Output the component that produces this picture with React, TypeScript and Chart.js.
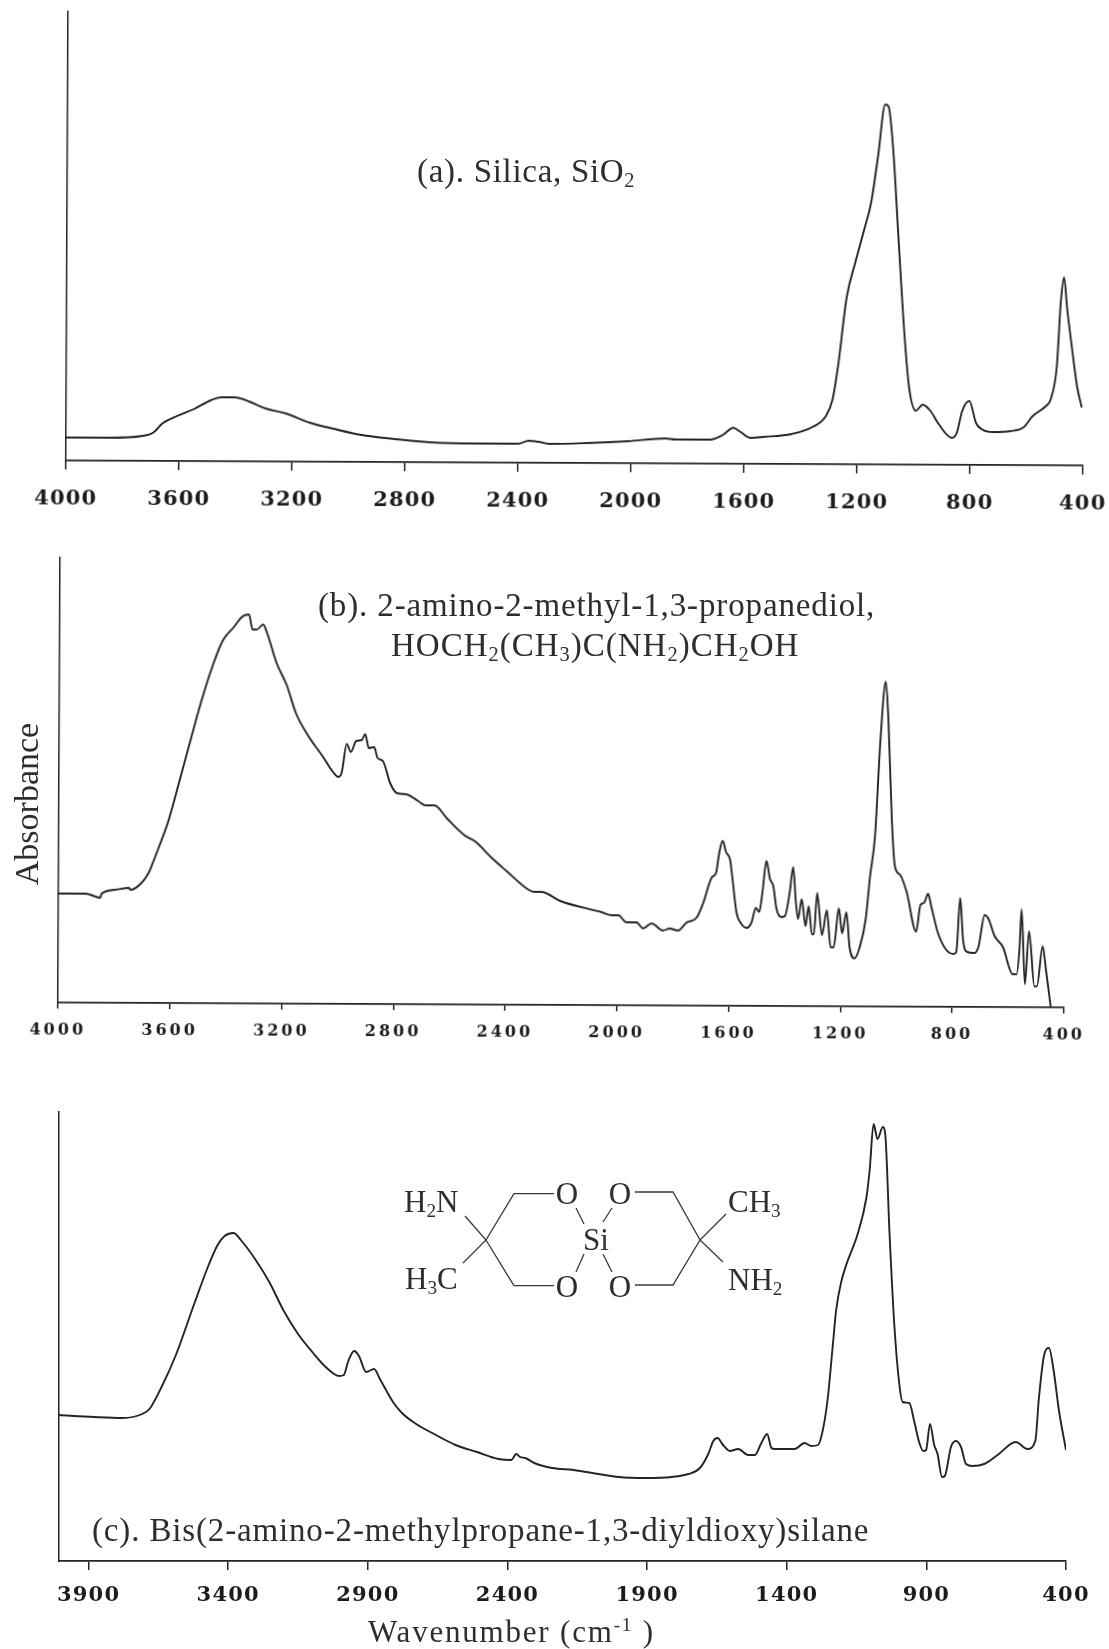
import React, { useEffect, useRef } from "react";
import { Chart, registerables } from "chart.js";

Chart.register(...registerables);

const wavenumberA = [4000,3850,3729,3693,3657,3608,3548,3487,3451,3403,3354,3294,3221,3137,3052,2955,2834,2714,2544,2399,2363,2327,2290,2157,2012,1879,1843,1722,1674,1638,1613,1577,1529,1432,1359,1311,1287,1268,1239,1210,1178,1154,1130,1106,1094,1077,1057,1033,1016,992,968,941,912,864,847,828,803,779,760,719,658,610,579,533,515,494,481,470,458,440,422,405];
const absorbanceA = [23,23,25,28,38,45,52,61,64,64,60,53,48,39,33,27,23,20,19,19,22,21,19,20,22,25,24,24,29,36,32,26,27,30,37,48,65,99,167,201,235,262,309,360,358,316,228,127,76,54,60,54,41,27,32,54,64,42,36,33,34,38,49,59,66,99,163,188,156,116,79,58];

const wavenumberB = [4000,3902,3850,3846,3799,3748,3742,3703,3678,3659,3640,3608,3569,3531,3493,3454,3416,3378,3346,3323,3310,3295,3272,3256,3224,3186,3154,3109,3058,3020,3000,2988,2971,2956,2937,2917,2905,2892,2873,2860,2841,2815,2790,2758,2713,2688,2656,2611,2547,2509,2451,2394,2323,2298,2272,2204,2056,2020,1996,1967,1931,1907,1877,1836,1812,1782,1752,1716,1692,1663,1647,1636,1624,1612,1597,1589,1573,1558,1537,1520,1504,1492,1481,1467,1454,1442,1430,1412,1400,1383,1371,1361,1353,1340,1326,1315,1303,1296,1285,1267,1250,1236,1225,1207,1195,1180,1168,1150,1132,1111,1096,1079,1061,1043,1033,1019,1007,989,965,930,915,902,888,876,852,822,795,786,773,762,747,721,707,685,671,649,619,584,570,560,553,540,526,506,497,477,465,447];
const absorbanceB = [109,109,105,109,113,115,113,120,130,143,157,182,222,262,301,336,363,376,387,389,374,374,379,369,341,318,291,268,248,232,227,232,260,252,263,264,270,256,257,246,243,221,211,210,203,199,199,186,169,163,147,133,116,113,113,104,93,90,90,83,83,77,82,75,77,75,83,88,103,128,133,153,165,154,146,129,93,83,78,83,98,94,113,145,127,120,97,89,90,114,139,104,87,107,80,100,72,72,113,71,96,59,59,98,73,94,59,48,59,87,130,170,267,325,287,187,140,132,115,75,102,104,113,100,74,57,53,55,109,67,55,54,60,92,88,71,60,33,33,58,98,23,76,21,21,61,38,0];

const wavenumberC = [4006,3881,3778,3708,3682,3637,3586,3522,3470,3438,3413,3381,3355,3304,3253,3201,3150,3099,3047,3003,2986,2970,2949,2932,2906,2878,2855,2810,2778,2727,2663,2586,2509,2432,2387,2368,2355,2336,2304,2240,2163,2073,2002,1907,1812,1752,1711,1681,1663,1648,1628,1604,1574,1538,1514,1491,1470,1455,1443,1372,1336,1312,1288,1270,1253,1235,1223,1205,1187,1145,1115,1103,1089,1075,1056,1047,1032,1015,997,985,961,943,925,911,901,887,872,860,844,834,812,794,776,758,735,693,645,580,538,510,497,479,461,445,425,400];
const absorbanceC = [146,144,143,147,152,175,207,257,296,316,325,328,321,302,279,250,227,209,193,185,186,200,210,205,189,192,181,159,148,137,127,116,109,102,101,107,104,103,98,93,91,87,84,83,84,87,93,107,120,123,116,110,112,106,106,118,127,113,112,112,118,115,116,132,163,216,251,279,296,328,363,391,437,422,434,426,328,237,177,159,158,139,118,110,111,137,116,107,84,85,114,120,114,97,95,97,106,119,112,120,163,205,213,192,150,111];

const ticksA = [4000,3600,3200,2800,2400,2000,1600,1200,800,400];
const ticksB = [4000,3600,3200,2800,2400,2000,1600,1200,800,400];
const ticksC = [3900,3400,2900,2400,1900,1400,900,400];

const INK = "#242424";
const SERIF = '"Liberation Serif", serif';

type PanelProps = {
  xs: number[]; ys: number[]; tickVals: number[]; xMin: number;
  left: number; right: number; top: number; bottom: number; tilt: number;
  tickLen: number; tickFont: number; spacing: number; tickPad: number; label: string;
};

function Panel(p: PanelProps) {
  const ref = useRef<HTMLCanvasElement | null>(null);
  const band = 60;
  useEffect(() => {
    const canvas = ref.current!;
    const spacingPlugin = {
      id: "tickSpacing",
      beforeDraw(chart: any) { chart.ctx.letterSpacing = p.spacing + "px"; },
    };
    const chart = new Chart(canvas, {
      type: "line",
      data: {
        datasets: [{
          label: p.label,
          data: p.xs.map((x, i) => ({ x, y: p.ys[i] })),
          borderColor: INK,
          borderWidth: 1.9,
          pointRadius: 0,
          fill: false,
          cubicInterpolationMode: "monotone",
        }],
      },
      options: {
        animation: false,
        responsive: false,
        maintainAspectRatio: false,
        parsing: false as any,
        layout: { padding: { left: p.left, right: 1109 - p.right, top: 0, bottom: 0 } },
        plugins: { legend: { display: false }, tooltip: { enabled: false }, title: { display: false } },
        scales: {
          x: {
            type: "linear",
            reverse: true,
            min: 400,
            max: p.xMin,
            afterBuildTicks: (s: any) => { s.ticks = p.tickVals.map((value) => ({ value })); },
            afterFit: (s: any) => { s.height = band; s.paddingLeft = 0; s.paddingRight = 0; },
            border: { display: true, color: INK, width: 1.7 },
            grid: { display: true, drawOnChartArea: false, drawTicks: true, tickLength: p.tickLen, color: INK, lineWidth: 1.5 },
            ticks: {
              autoSkip: false, maxRotation: 0, minRotation: 0, padding: p.tickPad, color: "#1c1c1c",
              font: { family: '"DejaVu Serif", serif', weight: "bold", size: p.tickFont },
              callback: (v: any) => String(v),
            },
          },
          y: {
            type: "linear",
            min: 0,
            max: p.bottom - p.top,
            afterFit: (s: any) => { s.width = 0; },
            border: { display: true, color: INK, width: 1.5 },
            grid: { display: false },
            ticks: { display: false },
          },
        },
      } as any,
      plugins: [spacingPlugin],
    });
    return () => chart.destroy();
  }, []);
  const h = p.bottom - p.top + band;
  return (
    <canvas
      ref={ref}
      width={1109}
      height={h}
      style={{
        position: "absolute", left: 0, top: p.top, width: 1109, height: h,
        transform: p.tilt ? `rotate(${p.tilt}deg)` : undefined,
        transformOrigin: `${(p.left + p.right) / 2}px ${(p.bottom - p.top) / 2}px`,
      }}
    />
  );
}

const textBase: React.CSSProperties = {
  position: "absolute", fontFamily: SERIF, color: "#2e2e2e", whiteSpace: "nowrap", lineHeight: 1,
};
const subStyle: React.CSSProperties = { fontSize: "0.62em", verticalAlign: "-0.25em", lineHeight: 0 };

function T({ x, y, size, ls, children, center }: { x: number; y: number; size: number; ls?: number; center?: boolean; children: React.ReactNode }) {
  return (
    <div style={{ ...textBase, left: x, top: y - size / 2, fontSize: size, letterSpacing: ls ?? 0, transform: center ? "translateX(-50%)" : undefined }}>
      {children}
    </div>
  );
}
const S = ({ children }: { children: React.ReactNode }) => <sub style={subStyle}>{children}</sub>;

export default function App() {
  useEffect(() => { document.body.style.margin = "0"; }, []);
  return (
    <div style={{ position: "absolute", left: 0, top: 0, width: 1109, height: 1649, overflow: "hidden", background: "#fff" }}>
      <Panel xs={wavenumberA} ys={absorbanceA} tickVals={ticksA} xMin={4000} left={67} right={1084} top={13} bottom={463} tilt={0.28} tickLen={9} tickFont={21} spacing={1.2} tickPad={17} label="(a) Silica" />
      <Panel xs={wavenumberB} ys={absorbanceB} tickVals={ticksB} xMin={4000} left={59} right={1065} top={559} bottom={1005} tilt={0.28} tickLen={6} tickFont={16} spacing={3} tickPad={12} label="(b) 2-amino-2-methyl-1,3-propanediol" />
      <Panel xs={wavenumberC} ys={absorbanceC} tickVals={ticksC} xMin={4006} left={59} right={1066} top={1111} bottom={1561} tilt={0} tickLen={9} tickFont={21} spacing={1.2} tickPad={13} label="(c) Bis(2-amino-2-methylpropane-1,3-diyldioxy)silane" />

      <T x={417} y={171} size={33} ls={0.7}>(a). Silica, SiO<S>2</S></T>
      <T x={318} y={605} size={33} ls={0.87}>(b). 2-amino-2-methyl-1,3-propanediol,</T>
      <T x={391} y={645} size={33} ls={1}>HOCH<S>2</S>(CH<S>3</S>)C(NH<S>2</S>)CH<S>2</S>OH</T>
      <T x={92} y={1530} size={33} ls={0.85}>(c). Bis(2-amino-2-methylpropane-1,3-diyldioxy)silane</T>
      <T x={368} y={1631} size={31} ls={1.8}>Wavenumber (cm<sup style={{ fontSize: "0.62em", verticalAlign: "0.55em", lineHeight: 0 }}>-1</sup> )</T>
      <div style={{ ...textBase, left: 27, top: 804, fontSize: 34, transform: "translate(-50%,-50%) rotate(-90deg)" }}>Absorbance</div>

      <svg width={1109} height={1649} style={{ position: "absolute", left: 0, top: 0 }}>
        <g stroke="#3a3a3a" strokeWidth={1.3} fill="none">
          <polyline points="465,1216 486,1240 463,1263" />
          <polyline points="554,1193.6 514,1193.6 486,1240 514,1285.7 554,1285.7" />
          <line x1={576} y1={1208} x2={584} y2={1224} />
          <line x1={584} y1={1254} x2={576} y2={1272} />
          <line x1={612} y1={1208} x2={603} y2={1222} />
          <line x1={603} y1={1254} x2={612} y2={1272} />
          <polyline points="635,1192 673,1192 700,1240 673,1285 635,1285" />
          <polyline points="726,1214 700,1240 723,1262" />
        </g>
      </svg>
      <T x={404} y={1201} size={31}>H<S>2</S>N</T>
      <T x={405} y={1278} size={31}>H<S>3</S>C</T>
      <T x={567} y={1193} size={31} center>O</T>
      <T x={567} y={1286} size={31} center>O</T>
      <T x={596} y={1239} size={31} center>Si</T>
      <T x={620} y={1193} size={31} center>O</T>
      <T x={620} y={1286} size={31} center>O</T>
      <T x={728} y={1201} size={31}>CH<S>3</S></T>
      <T x={728} y={1279} size={31}>NH<S>2</S></T>
    </div>
  );
}
